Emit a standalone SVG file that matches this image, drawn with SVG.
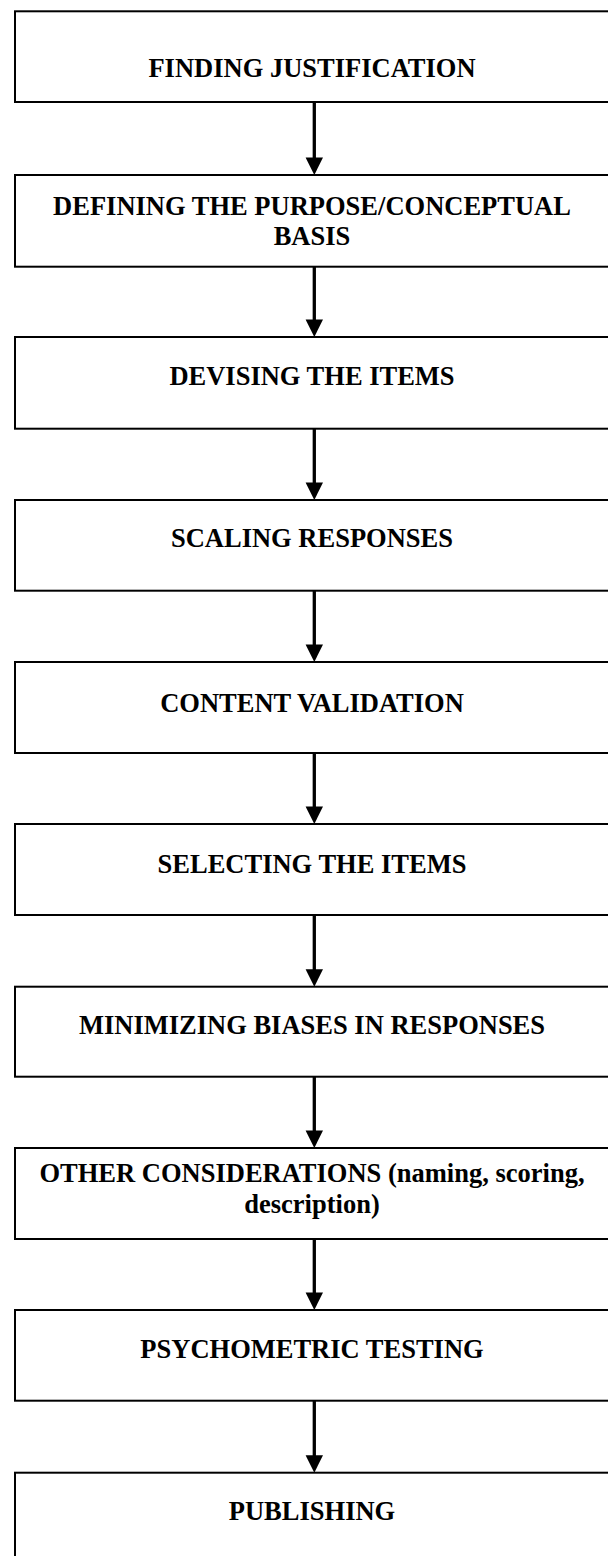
<svg xmlns="http://www.w3.org/2000/svg" width="608" height="1556" viewBox="0 0 608 1556">
<style>
.box{fill:#fff;stroke:#000;stroke-width:2}
.lbl{font-family:"Liberation Serif","Times New Roman",serif;font-weight:bold;font-size:26.5px;fill:#000;text-anchor:middle}
.con line{stroke:#000;stroke-width:3.3}
.con polygon{fill:#000}
</style>
<rect width="608" height="1556" fill="#fff"/>
<g id="n1"><rect class="box" x="15" y="11.3" width="620" height="90.7"/><text class="lbl" x="312" y="77.3">FINDING JUSTIFICATION</text></g>
<g id="n2"><rect class="box" x="15" y="175" width="620" height="91.7"/><text class="lbl" x="312" y="215">DEFINING THE PURPOSE/CONCEPTUAL</text><text class="lbl" x="312" y="245">BASIS</text></g>
<g id="n3"><rect class="box" x="15" y="337" width="620" height="91.7"/><text class="lbl" x="312" y="385">DEVISING THE ITEMS</text></g>
<g id="n4"><rect class="box" x="15" y="500" width="620" height="90.7"/><text class="lbl" x="312" y="546.7">SCALING RESPONSES</text></g>
<g id="n5"><rect class="box" x="15" y="662" width="620" height="91"/><text class="lbl" x="312" y="711.7">CONTENT VALIDATION</text></g>
<g id="n6"><rect class="box" x="15" y="824" width="620" height="91"/><text class="lbl" x="312" y="873.3">SELECTING THE ITEMS</text></g>
<g id="n7"><rect class="box" x="15" y="986.7" width="620" height="90"/><text class="lbl" x="312" y="1034">MINIMIZING BIASES IN RESPONSES</text></g>
<g id="n8"><rect class="box" x="15" y="1148" width="620" height="91"/><text class="lbl" x="312" y="1181.7">OTHER CONSIDERATIONS (naming, scoring,</text><text class="lbl" x="312" y="1213.3">description)</text></g>
<g id="n9"><rect class="box" x="15" y="1310" width="620" height="90.7"/><text class="lbl" x="312" y="1358.3">PSYCHOMETRIC TESTING</text></g>
<g id="n10"><rect class="box" x="15" y="1472.7" width="620" height="100"/><text class="lbl" x="312" y="1520">PUBLISHING</text></g>
<g id="connectors" class="con">
<line x1="314.3" y1="102" x2="314.3" y2="158"/><polygon points="305.6,157.5 323,157.5 314.3,175"/>
<line x1="314.3" y1="266.7" x2="314.3" y2="320"/><polygon points="305.6,319.5 323,319.5 314.3,337"/>
<line x1="314.3" y1="428.7" x2="314.3" y2="483"/><polygon points="305.6,482.5 323,482.5 314.3,500"/>
<line x1="314.3" y1="590.7" x2="314.3" y2="645"/><polygon points="305.6,644.5 323,644.5 314.3,662"/>
<line x1="314.3" y1="753" x2="314.3" y2="807"/><polygon points="305.6,806.5 323,806.5 314.3,824"/>
<line x1="314.3" y1="915" x2="314.3" y2="970"/><polygon points="305.6,969.3 323,969.3 314.3,986.7"/>
<line x1="314.3" y1="1076.7" x2="314.3" y2="1131"/><polygon points="305.6,1130.5 323,1130.5 314.3,1148"/>
<line x1="314.3" y1="1239" x2="314.3" y2="1293"/><polygon points="305.6,1292.5 323,1292.5 314.3,1310"/>
<line x1="314.3" y1="1400.7" x2="314.3" y2="1456"/><polygon points="305.6,1455.2 323,1455.2 314.3,1472.7"/>
</g>
</svg>
